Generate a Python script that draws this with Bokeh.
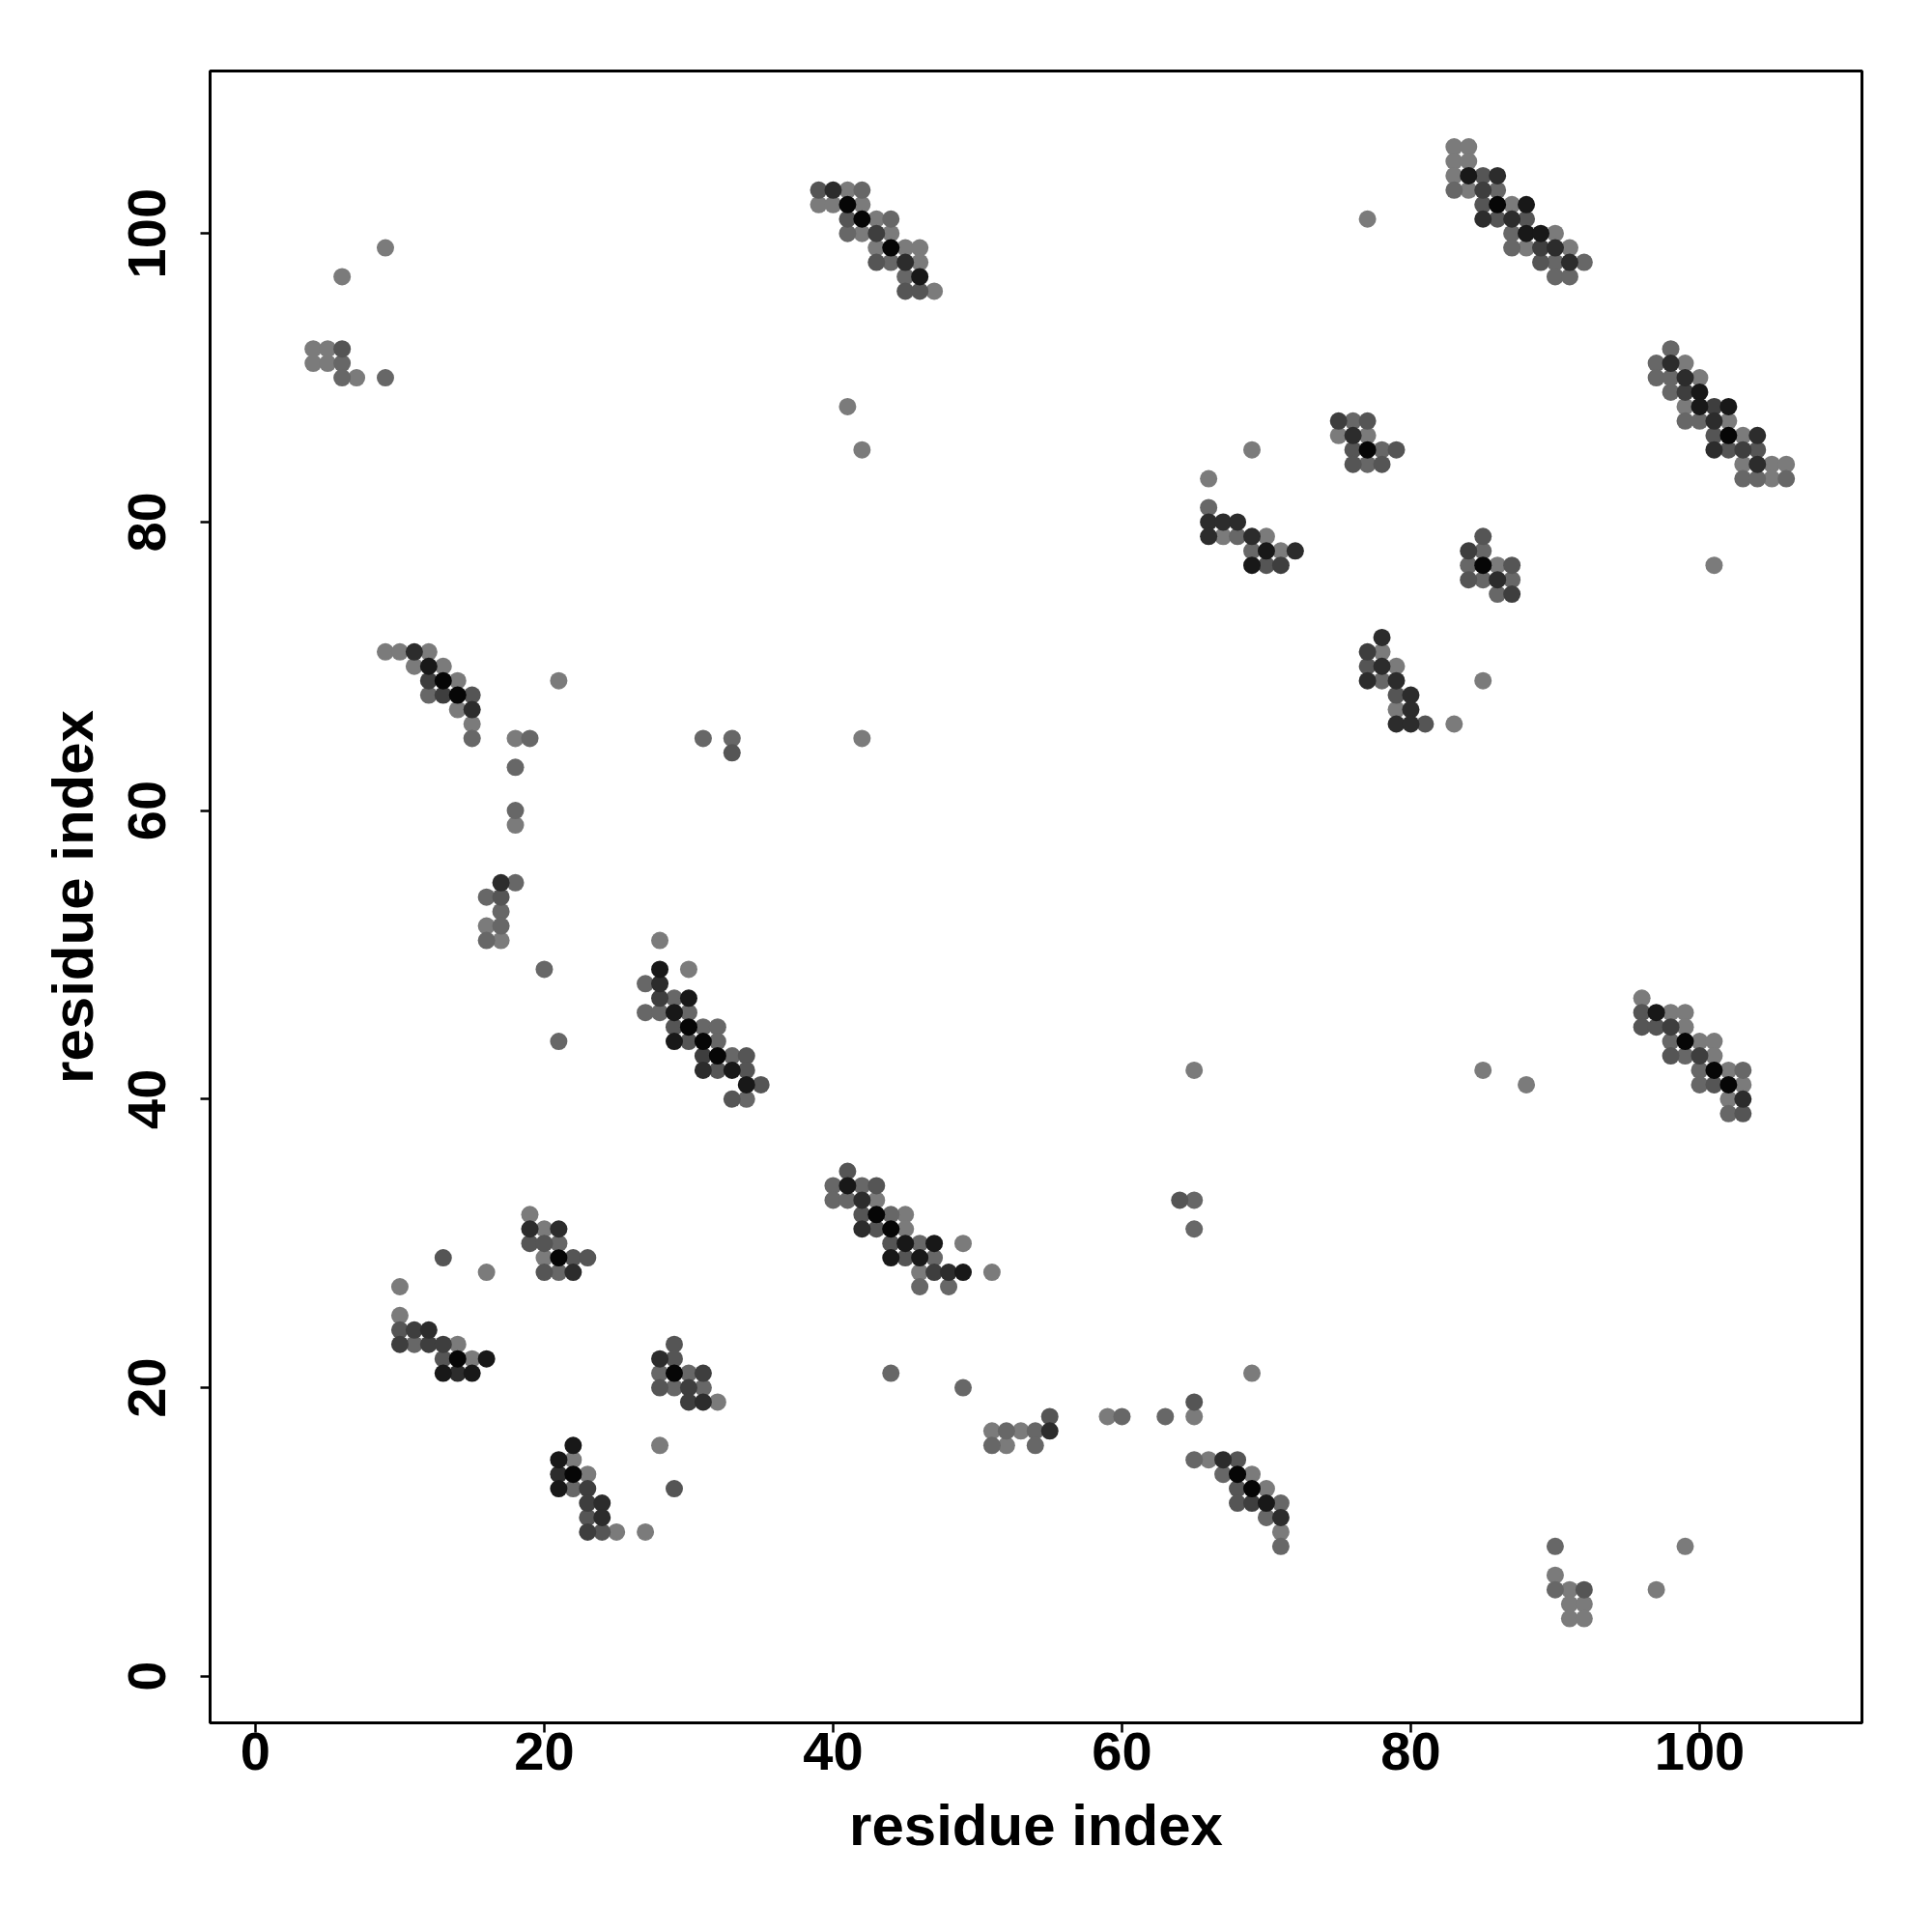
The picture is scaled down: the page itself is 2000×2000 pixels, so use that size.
from bokeh.plotting import figure
from bokeh.models import Range1d, FixedTicker, ColumnDataSource
from bokeh.embed import file_html
from bokeh.resources import INLINE

# residue i (x), residue j (y), shade level (0 = light grey ... 6 = black)
res_x = [
    9, 6, 4, 5, 6, 4, 5, 6, 6, 7, 9,
    39, 40, 41, 42, 39, 40, 41, 42, 41, 42, 43, 44, 41, 42, 43, 44,
    43, 44, 45, 46, 43, 44, 45, 46, 45, 46, 45, 46, 47,
    41, 42, 69, 66, 66, 66, 67, 68, 66, 67, 68, 69, 70, 69, 70, 71, 72, 69, 70, 71,
    77, 83, 84, 83, 84, 83, 84, 85, 86, 83, 84, 85, 86, 85, 86, 87, 88, 85, 86, 87, 88,
    87, 88, 89, 90, 87, 88, 89, 90, 91, 89, 90, 91, 92, 90, 91,
    98, 97, 98, 99, 97, 98, 99, 100, 98, 99, 100, 99, 100, 101, 102, 99, 100, 101, 102,
    101, 102, 103, 104, 101, 102, 103, 104, 103, 104, 105, 106, 103, 104, 105, 106,
    75, 76, 77, 75, 76, 77, 76, 77, 78, 79, 76, 77, 78,
    85, 84, 85, 84, 85, 86, 87, 84, 85, 86, 87, 86, 87, 101,
    9, 10, 11, 12, 11, 12, 13, 12, 13, 14, 12, 13, 14, 15, 14, 15, 15, 15, 18, 19,
    21, 18, 18, 18, 31, 33, 33, 17, 18, 16, 17, 17, 16, 17, 16, 17,
    28, 20, 30, 21, 28, 27, 28, 28, 29, 30, 27, 28, 29, 30, 29, 30, 31, 32, 29, 30, 31, 32,
    31, 32, 33, 34, 31, 32, 33, 34, 34, 35, 33, 34,
    42, 65,
    78, 77, 78, 77, 78, 79, 77, 78, 79, 79, 80, 79, 80, 79, 80, 81, 83, 85,
    96, 96, 97, 98, 99, 96, 97, 98, 99, 98, 99, 100, 101, 98, 99, 100, 101,
    100, 101, 102, 103, 100, 101, 102, 103, 102, 103, 102, 103, 85, 88,
    19, 19, 20, 21, 19, 20, 21, 20, 21, 22, 23, 20, 21, 22, 13, 16, 10,
    10, 10, 11, 12, 10, 11, 12, 13, 14, 13, 14, 15, 16, 13, 14, 15,
    29, 28, 29, 28, 29, 30, 31, 28, 29, 30, 31, 30, 31, 32,
    22, 28, 21, 22, 21, 22, 23, 21, 22, 23, 29, 23, 24, 23, 24, 23, 24, 25, 27,
    41, 40, 41, 42, 43, 40, 41, 42, 43, 42, 43, 44, 45, 42, 43, 44, 45,
    44, 45, 46, 47, 49, 44, 45, 46, 47, 46, 47, 48, 49, 51, 46, 48,
    64, 65, 65, 44, 49, 69, 65, 65, 55, 59, 60, 63,
    51, 52, 53, 54, 55, 51, 52, 54,
    65, 66, 67, 68, 67, 68, 69, 68, 69, 70, 68, 69, 70, 71, 70, 71, 71, 71,
    90, 99, 90, 90, 91, 92, 97, 91, 92, 91, 92,
]
res_y = [
    99, 97, 92, 92, 92, 91, 91, 91, 90, 90, 90,
    103, 103, 103, 103, 102, 102, 102, 102, 101, 101, 101, 101, 100, 100, 100, 100,
    99, 99, 99, 99, 98, 98, 98, 98, 97, 97, 96, 96, 96,
    88, 85, 85, 83, 81, 80, 80, 80, 79, 79, 79, 79, 79, 78, 78, 78, 78, 77, 77, 77,
    101, 106, 106, 105, 105, 104, 104, 104, 104, 103, 103, 103, 103, 102, 102, 102, 102, 101, 101, 101, 101,
    100, 100, 100, 100, 99, 99, 99, 99, 99, 98, 98, 98, 98, 97, 97,
    92, 91, 91, 91, 90, 90, 90, 90, 89, 89, 89, 88, 88, 88, 88, 87, 87, 87, 87,
    86, 86, 86, 86, 85, 85, 85, 85, 84, 84, 84, 84, 83, 83, 83, 83,
    87, 87, 87, 86, 86, 86, 85, 85, 85, 85, 84, 84, 84,
    79, 78, 78, 77, 77, 77, 77, 76, 76, 76, 76, 75, 75, 77,
    71, 71, 71, 71, 70, 70, 70, 69, 69, 69, 68, 68, 68, 68, 67, 67, 66, 65, 65, 65,
    69, 63, 60, 59, 65, 65, 64, 55, 55, 54, 54, 53, 52, 52, 51, 51,
    51, 49, 49, 44, 49, 48, 48, 47, 47, 47, 46, 46, 46, 46, 45, 45, 45, 45, 44, 44, 44, 44,
    43, 43, 43, 43, 42, 42, 42, 42, 41, 41, 40, 40,
    65, 42,
    72, 71, 71, 70, 70, 70, 69, 69, 69, 68, 68, 67, 67, 66, 66, 66, 66, 69,
    47, 46, 46, 46, 46, 45, 45, 45, 45, 44, 44, 44, 44, 43, 43, 43, 43,
    42, 42, 42, 42, 41, 41, 41, 41, 40, 40, 39, 39, 42, 41,
    32, 31, 31, 31, 30, 30, 30, 29, 29, 29, 29, 28, 28, 28, 29, 28, 27,
    25, 24, 24, 24, 23, 23, 23, 23, 23, 22, 22, 22, 22, 21, 21, 21,
    23, 22, 22, 21, 21, 21, 21, 20, 20, 20, 20, 19, 19, 19,
    16, 16, 15, 15, 14, 14, 14, 13, 13, 13, 13, 12, 12, 11, 11, 10, 10, 10, 10,
    35, 34, 34, 34, 34, 33, 33, 33, 33, 32, 32, 32, 32, 31, 31, 31, 31,
    30, 30, 30, 30, 30, 29, 29, 29, 29, 28, 28, 28, 28, 28, 27, 27,
    33, 33, 31, 21, 20, 21, 19, 18, 18, 18, 18, 18,
    17, 17, 17, 17, 17, 16, 16, 16,
    15, 15, 15, 15, 14, 14, 14, 13, 13, 13, 12, 12, 12, 12, 11, 11, 10, 9,
    9, 9, 7, 6, 6, 6, 6, 5, 5, 4, 4,
]
shade = [
    0, 0, 0, 0, 2, 0, 0, 1, 1, 0, 1,
    2, 4, 0, 1, 0, 0, 6, 0, 2, 6, 0, 1, 1, 0, 3, 0,
    0, 6, 0, 0, 2, 1, 4, 0, 1, 5, 2, 2, 0,
    0, 0, 0, 0, 1, 4, 4, 4, 4, 0, 1, 4, 0, 1, 5, 0, 4, 5, 2, 3,
    0, 0, 0, 0, 0, 0, 5, 2, 4, 1, 0, 3, 1, 2, 6, 0, 5, 4, 2, 4, 2,
    1, 5, 5, 0, 1, 0, 3, 4, 0, 2, 1, 4, 1, 1, 1,
    1, 1, 4, 0, 1, 1, 4, 0, 1, 3, 5, 0, 5, 3, 5, 1, 1, 4, 0,
    2, 6, 0, 4, 4, 2, 3, 2, 0, 4, 0, 0, 1, 1, 0, 1,
    3, 1, 2, 0, 4, 0, 2, 6, 1, 2, 2, 1, 2,
    2, 3, 1, 1, 6, 0, 2, 2, 1, 4, 1, 1, 3, 0,
    0, 0, 4, 0, 0, 5, 0, 3, 6, 0, 1, 3, 6, 2, 0, 4, 0, 1, 0, 1,
    0, 1, 1, 0, 1, 1, 2, 4, 1, 1, 2, 1, 0, 1, 1, 0,
    0, 1, 0, 1, 5, 1, 4, 3, 1, 5, 1, 1, 5, 1, 2, 6, 1, 1, 5, 2, 6, 1,
    3, 6, 1, 2, 4, 2, 5, 2, 5, 2, 2, 1,
    0, 0,
    4, 3, 0, 2, 4, 0, 4, 1, 4, 2, 4, 0, 4, 4, 4, 2, 0, 0,
    0, 2, 5, 0, 0, 2, 2, 3, 0, 1, 6, 0, 0, 2, 1, 3, 0,
    1, 6, 0, 1, 1, 2, 6, 0, 0, 4, 1, 2, 0, 0,
    0, 4, 0, 4, 2, 2, 1, 0, 6, 2, 2, 2, 1, 4, 2, 0, 0,
    0, 2, 3, 4, 3, 1, 3, 3, 0, 2, 6, 0, 5, 5, 4, 5,
    2, 4, 2, 1, 6, 1, 3, 2, 1, 3, 1, 3, 4, 0,
    5, 0, 5, 0, 4, 6, 0, 5, 1, 3, 2, 3, 4, 2, 4, 3, 2, 0, 0,
    2, 1, 5, 1, 2, 1, 1, 4, 0, 2, 6, 1, 0, 4, 2, 6, 0,
    2, 5, 1, 5, 0, 5, 2, 5, 1, 0, 3, 4, 5, 0, 1, 1,
    2, 1, 1, 1, 1, 0, 2, 0, 2, 0, 1, 1,
    0, 1, 0, 1, 4, 1, 0, 1,
    1, 0, 4, 2, 1, 6, 0, 2, 6, 0, 2, 3, 5, 1, 1, 4, 0, 1,
    1, 0, 0, 1, 0, 2, 0, 0, 0, 0, 0,
]
tick_values = [0, 20, 40, 60, 80, 100]
axis_title = "residue index"

palette = ["#7b7b7b", "#676767", "#555555", "#3e3e3e", "#2c2c2c", "#181818", "#060606"]

order = sorted(range(len(res_x)), key=lambda i: shade[i])
src = ColumnDataSource(dict(
    x=[res_x[i] for i in order],
    y=[res_y[i] for i in order],
    c=[palette[shade[i]] for i in order],
))

p = figure(width=1984, height=1984, output_backend="svg", toolbar_location=None,
           x_range=Range1d(-3.14, 111.24), y_range=Range1d(-3.23, 111.26),
           min_border_left=217, min_border_right=57, min_border_top=73, min_border_bottom=201)
p.background_fill_color = "white"
p.border_fill_color = "white"
p.xgrid.visible = False
p.ygrid.visible = False
p.outline_line_color = "black"
p.outline_line_width = 3
p.outline_line_alpha = 1

p.scatter("x", "y", source=src, size=18, fill_color="c", line_color=None)

for ax in (p.xaxis[0], p.yaxis[0]):
    ax.ticker = FixedTicker(ticks=tick_values)
    ax.minor_tick_line_color = None
    ax.major_tick_in = 0
    ax.major_tick_out = 10
    ax.major_tick_line_width = 2.5
    ax.major_tick_line_color = "black"
    ax.axis_line_color = None
    ax.major_label_text_font = "Liberation Sans"
    ax.major_label_text_font_style = "bold"
    ax.major_label_text_font_size = "56px"
    ax.major_label_text_color = "black"
    ax.axis_label = axis_title
    ax.axis_label_text_font = "Liberation Sans"
    ax.axis_label_text_font_style = "bold"
    ax.axis_label_text_font_size = "60px"
    ax.axis_label_text_color = "black"

p.xaxis[0].major_label_standoff = 0
p.xaxis[0].axis_label_standoff = 21
p.yaxis[0].major_label_orientation = "parallel"
p.yaxis[0].major_label_standoff = 36
p.yaxis[0].axis_label_standoff = 22

open("out.html", "w").write(file_html(p, INLINE))
